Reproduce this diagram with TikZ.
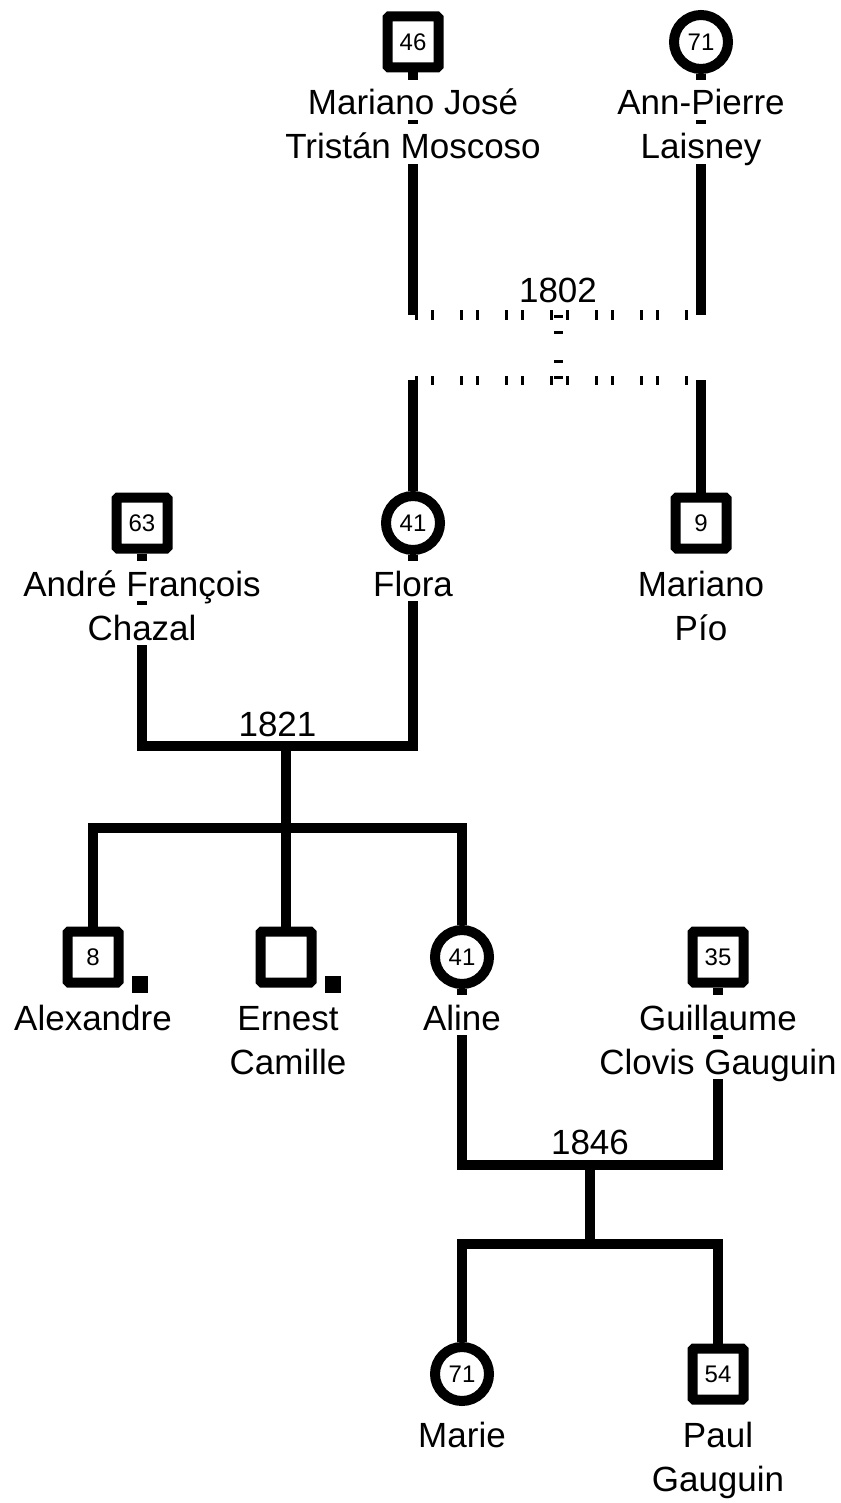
\documentclass[tikz,border=0pt]{standalone}
\usepackage{fontspec}
\setmainfont{Liberation Sans}
\newcommand{\lblfont}{\fontsize{35}{41}\selectfont}
\newcommand{\numfont}{\fontsize{24}{28}\selectfont}
\tikzset{
  male/.style={draw, line width=10pt, rectangle, minimum size=51pt, inner sep=0pt, rounded corners=1.5pt, font=\numfont},
  female/.style={draw, line width=10pt, circle, minimum size=54pt, inner sep=0pt, font=\numfont},
  link/.style={line width=9.5pt, line join=miter},
  dotlink/.style={line width=9pt, dash pattern=on 3pt off 26pt on 3pt off 13pt},
  lbl/.style={fill=white, inner xsep=2pt, inner ysep=0pt, minimum height=40pt, text height=33pt, text depth=3pt, font=\lblfont},
  year/.style={font=\lblfont, inner sep=0pt, anchor=base},
  dsq/.style={fill=black, draw=none, minimum width=16pt, minimum height=17pt, inner sep=0pt}
}
\begin{document}
\begin{tikzpicture}[x=1pt, y=-1pt]
\useasboundingbox (0,0) rectangle (840,1503);
\fill[white] (0,0) rectangle (840,1503);
% persons
\node[male]   (mj)   at (413,42)  {46};
\node[female] (ap)   at (701,42)  {71};
\node[male]   (af)   at (142,523) {63};
\node[female] (flora) at (413,523) {41};
\node[male]   (pio)  at (701,523) {9};
\node[male]   (alex) at (93,957)  {8};
\node[male]   (ernest) at (286,957) {};
\node[female] (aline) at (462,957) {41};
\node[male]   (guil) at (718,957) {35};
\node[female] (marie) at (462,1374) {71};
\node[male]   (paul) at (718,1374) {54};
\node[dsq] (alexmark) at (140,984) {};
\node[dsq] (ernestmark) at (333,984) {};
% coordinates
\coordinate (L1802) at (413,315);
\coordinate (R1802) at (701,315);
\coordinate (M1802) at (558,315);
\coordinate (D1802) at (558,380);
\coordinate (CL1802) at (413,380);
\coordinate (CR1802) at (701,380);
\coordinate (m1821) at (277.5,746);
\coordinate (d1821) at (286,746);
\coordinate (c1821) at (286,828);
\coordinate (m1846) at (590,1165);
\coordinate (c1846) at (590,1244);
% 1802
\draw[link] (mj) -- (L1802);
\draw[link] (ap) -- (R1802);
\draw[dotlink, dash phase=27pt] (L1802) -- (R1802);
\draw[dotlink, dash phase=29pt] (M1802) -- (D1802);
\draw[dotlink, dash phase=27pt] (CL1802) -- (CR1802);
\draw[link] (CL1802) -- (flora);
\draw[link] (CR1802) -- (pio);
\node[year] (y1802) at (558,303) {1802};
% 1821
\draw[link] (af) |- (m1821) -| (flora);
\draw[link] (d1821) -- (ernest);
\draw[link] (alex) |- (c1821) -| (aline);
\node[year] (y1821) at (277.5,736) {1821};
% 1846
\draw[link] (aline) |- (m1846) -| (guil);
\draw[link] (m1846) -- (c1846);
\draw[link] (marie) |- (c1846) -| (paul);
\node[year] (y1846) at (590,1154) {1846};
% labels
\node[lbl] (mj1) at (413,100) {Mariano José};
\node[lbl] (mj2) at (413,144) {Tristán Moscoso};
\node[lbl] (ap1) at (701,100) {Ann-Pierre};
\node[lbl] (ap2) at (701,144) {Laisney};
\node[lbl] (af1) at (142,581) {André François};
\node[lbl] (af2) at (142,625) {Chazal};
\node[lbl] (fl1) at (413,581) {Flora};
\node[lbl] (mp1) at (701,581) {Mariano};
\node[lbl] (mp2) at (701,625) {Pío};
\node[lbl] (al1) at (93,1015) {Alexandre};
\node[lbl] (ec1) at (288,1015) {Ernest};
\node[lbl] (ec2) at (288,1059) {Camille};
\node[lbl] (an1) at (462,1015) {Aline};
\node[lbl] (gc1) at (718,1015) {Guillaume};
\node[lbl] (gc2) at (718,1059) {Clovis Gauguin};
\node[lbl] (ma1) at (462,1432) {Marie};
\node[lbl] (pg1) at (718,1432) {Paul};
\node[lbl] (pg2) at (718,1476) {Gauguin};
\end{tikzpicture}
\end{document}
